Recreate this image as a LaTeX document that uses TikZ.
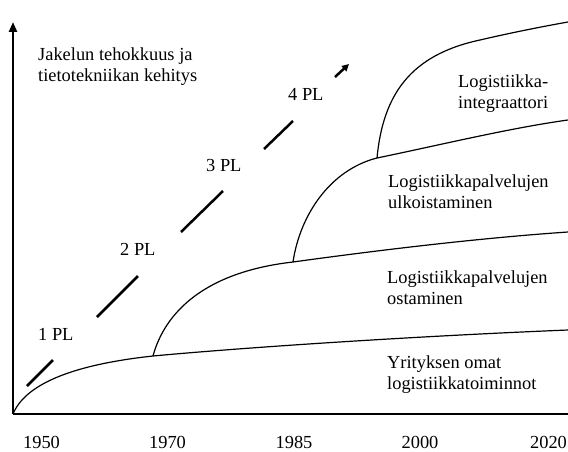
\documentclass[tikz,border=0pt]{standalone}
\usepackage{fontspec}
\setmainfont{Liberation Serif}
\newfontfamily\diagfont{Liberation Serif}
\usetikzlibrary{arrows.meta}
\begin{document}
\begin{tikzpicture}[x=1pt,y=-1pt,
  lbl/.style={inner sep=0pt,font=\diagfont\fontsize{18.4}{21}\selectfont},
  blk/.style={lbl,align=left,anchor=north west},
  yr/.style={lbl,anchor=base},
  axisline/.style={line width=2.4pt},
  curve/.style={line width=1.2pt},
  plseg/.style={line width=2.5pt}]
\useasboundingbox (0,0) rectangle (568,452);
% axes
\coordinate (O) at (13,414);
\coordinate (ytop) at (13,22);
\coordinate (xend) at (568,414);
\draw[axisline,-{Triangle[length=10pt,width=8pt]}] (O) -- (ytop);
\draw[axisline] (O) -- (xend);
% curve junctions
\coordinate (j1) at (153,356);
\coordinate (j2) at (293,262);
\coordinate (j3) at (377,158);
\coordinate (j4) at (480,40);
\coordinate (e1) at (568,330);
\coordinate (e2) at (568,232);
\coordinate (e3) at (568,120);
\coordinate (e4) at (568,22);
\draw[curve] (O) .. controls (25,385) and (70,365) .. (j1)
  .. controls (250,347) and (420,336) .. (e1);
\draw[curve] (j1) .. controls (165,312) and (205,272) .. (j2)
  .. controls (380,250) and (480,238) .. (e2);
\draw[curve] (j2) .. controls (300,215) and (330,170) .. (j3)
  .. controls (440,145) and (510,128) .. (e3);
\draw[curve] (j3) .. controls (383,95) and (410,55) .. (j4)
  .. controls (510,33) and (540,27) .. (e4);
% PL dashes
\coordinate (a1) at (27,386); \coordinate (b1) at (53,360);
\coordinate (a2) at (97,317); \coordinate (b2) at (138,276);
\coordinate (a3) at (181,232); \coordinate (b3) at (223,191);
\coordinate (a4) at (264,149); \coordinate (b4) at (293,121);
\coordinate (a5) at (335,77); \coordinate (b5) at (349,64);
\draw[plseg] (a1) -- (b1);
\draw[plseg] (a2) -- (b2);
\draw[plseg] (a3) -- (b3);
\draw[plseg] (a4) -- (b4);
\draw[plseg,-{Triangle[length=7pt,width=7pt]}] (a5) -- (b5);
% PL labels
\node[lbl,anchor=base west] (pl1) at (38,340) {1 PL};
\node[lbl,anchor=base west] (pl2) at (120,255) {2 PL};
\node[lbl,anchor=base west] (pl3) at (206,171) {3 PL};
\node[lbl,anchor=base west] (pl4) at (288,101) {4 PL};
% texts
\node[blk] (title) at (38,47.5) {Jakelun tehokkuus ja\\tietotekniikan kehitys};
\node[blk] (t4) at (458,74.5) {Logistiikka-\\integraattori};
\node[blk] (t3) at (388,174.5) {Logistiikkapalvelujen\\ulkoistaminen};
\node[blk] (t2) at (387,270.5) {Logistiikkapalvelujen\\ostaminen};
\node[blk] (t1) at (387,355.5) {Yrityksen omat\\logistiikkatoiminnot};
% years
\node[yr] (y1) at (41.5,448) {1950};
\node[yr] (y2) at (167.5,448) {1970};
\node[yr] (y3) at (294,448) {1985};
\node[yr] (y4) at (420,448) {2000};
\node[yr] (y5) at (548.5,448) {2020};
\end{tikzpicture}
\end{document}
